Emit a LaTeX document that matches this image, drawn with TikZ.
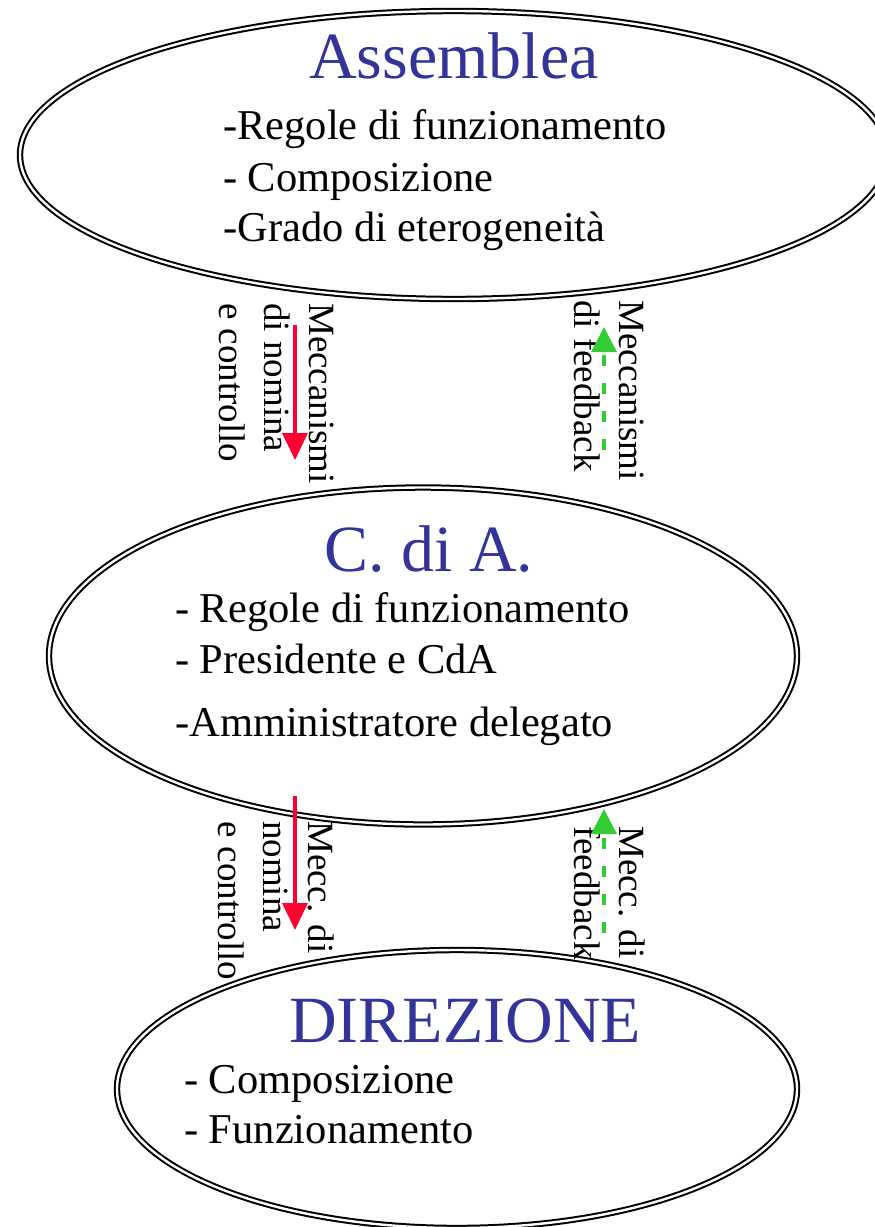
\documentclass[tikz,border=0pt]{standalone}
\usepackage{fontspec}
\setmainfont{Liberation Serif}
\usetikzlibrary{shapes.geometric,arrows.meta}

\definecolor{titleblue}{HTML}{333399}
\definecolor{nomred}{HTML}{FF0033}
\definecolor{fbgreen}{HTML}{33CC33}

\tikzset{
  organ/.style={ellipse, draw, double, line width=2pt, double distance=2.4pt, inner sep=0pt, outer sep=0pt},
  titolo/.style={anchor=base west, inner sep=0pt, text=titleblue, font=\fontsize{66}{70}\selectfont},
  voce/.style={anchor=base west, inner sep=0pt, font=\fontsize{42.5}{51}\selectfont},
  mecc/.style={rotate=-90, anchor=north west, inner sep=0pt, align=left, font=\fontsize{37}{45}\selectfont},
  nomina/.style={draw=nomred, line width=3.4pt, -{Triangle[length=27pt,width=25pt]}},
  feedback/.style={draw=fbgreen, line width=3.4pt, dash pattern=on 11pt off 17pt, -{Triangle[length=25pt,width=25pt]}},
}

\begin{document}
\begin{tikzpicture}[x=1pt, y=-1pt]
    \useasboundingbox (0,0) rectangle (875,1227);

    % the three bodies
    \node[organ, minimum width=868pt, minimum height=288pt] (ass) at (454,155) {};
    \node[organ, minimum width=748pt, minimum height=337pt] (cda) at (423,656) {};
    \node[organ, minimum width=680pt, minimum height=278pt] (dir) at (457,1089) {};

    % Assemblea
    \node[titolo] (tAss) at (309,78) {Assemblea};
    \node[voce] (vAss1) at (223,139) {-Regole di funzionamento};
    \node[voce] (vAss2) at (223,191) {- Composizione};
    \node[voce] (vAss3) at (223,241) {-Grado di eterogeneità};

    % C. di A.
    \node[titolo] (tCda) at (324,571) {C. di A.};
    \node[voce] (vCda1) at (175,622) {- Regole di funzionamento};
    \node[voce] (vCda2) at (175,673) {- Presidente e CdA};
    \node[voce] (vCda3) at (175,736) {-Amministratore delegato};

    % Direzione
    \node[titolo] (tDir) at (289,1042) {DIREZIONE};
    \node[voce] (vDir1) at (184,1093) {- Composizione};
    \node[voce] (vDir2) at (184,1143) {- Funzionamento};

    % mechanisms between the bodies
    \node[mecc] (mn1) at (334,303) {Meccanismi\\di nomina\\e controllo};
    \node[mecc] (mf1) at (644,300) {Meccanismi\\di feedback};
    \node[mecc] (mn2) at (334,821) {Mecc. di\\nomina\\e controllo};
    \node[mecc] (mf2) at (645,826) {Mecc. di\\feedback};

    \coordinate (n1a) at (295,325);
    \coordinate (n1b) at (295,460);
    \coordinate (f1a) at (604,450);
    \coordinate (f1b) at (604,327);
    \coordinate (n2a) at (295,796);
    \coordinate (n2b) at (295,930);
    \coordinate (f2a) at (604,933);
    \coordinate (f2b) at (604,809);

    \draw[nomina] (n1a) -- (n1b);
    \draw[feedback] (f1a) -- (f1b);
    \draw[nomina] (n2a) -- (n2b);
    \draw[feedback] (f2a) -- (f2b);
\end{tikzpicture}
\end{document}
